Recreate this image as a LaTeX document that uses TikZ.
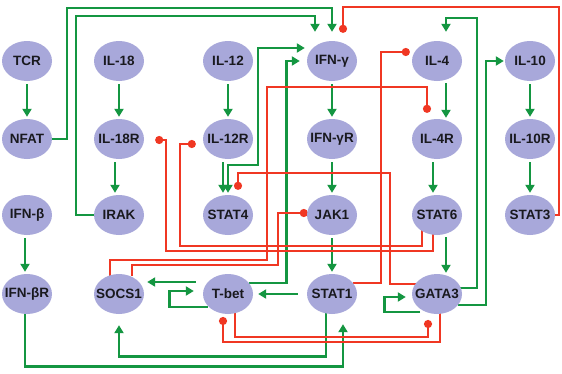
\documentclass[tikz,border=0pt]{standalone}
\usepackage{fontspec}
\setmainfont{Liberation Sans}
\usetikzlibrary{arrows.meta,calc,shapes.geometric,backgrounds}
\definecolor{lav}{RGB}{168,168,218}
\definecolor{actg}{RGB}{20,150,65}
\definecolor{inhr}{RGB}{240,55,35}
\definecolor{txt}{RGB}{25,25,30}
\begin{document}
\begin{tikzpicture}[x=1pt,y=-1pt,
  gene/.style={ellipse, fill=lav, minimum width=50pt, minimum height=40pt, inner sep=0pt, text=txt, font=\fontsize{13.5}{15}\selectfont\bfseries,
    execute at begin node={\hbox to 0pt\bgroup\hss}, execute at end node={\hss\egroup}},
  act/.style={color=actg, line width=2.7pt, -{Triangle[length=8pt,width=9pt]}},
  dbl/.style={color=actg, line width=2.7pt, {Triangle[length=8pt,width=9pt]}-{Triangle[length=8pt,width=9pt]}},
  inh/.style={color=inhr, line width=2.7pt, -{Circle[length=8pt]}},
  vshort/.style={shorten <=3pt, shorten >=2pt}
]
\path[use as bounding box] (0,0) rectangle (562,373);
% nodes
\node[gene] (tcr)   at (27,61)  {TCR};
\node[gene] (il18)  at (119,61) {IL-18};
\node[gene] (il12)  at (228,61) {IL-12};
\node[gene] (ifng)  at (332,61) {IFN-γ};
\node[gene] (il4)   at (437,61) {IL-4};
\node[gene] (il10)  at (530,61) {IL-10};
\node[gene] (nfat)  at (27,139)  {NFAT};
\node[gene] (il18r) at (119,139) {IL-18R};
\node[gene] (il12r) at (228,139) {IL-12R};
\node[gene] (ifngr) at (332,139) {IFN-γR};
\node[gene] (il4r)  at (437,139) {IL-4R};
\node[gene] (il10r) at (530,139) {IL-10R};
\node[gene] (ifnb)  at (27,215)  {IFN-β};
\node[gene] (irak)  at (119,215) {IRAK};
\node[gene] (stat4) at (228,215) {STAT4};
\node[gene] (jak1)  at (332,215) {JAK1};
\node[gene] (stat6) at (437,215) {STAT6};
\node[gene] (stat3) at (530,215) {STAT3};
\node[gene] (ifnbr) at (27,294)  {IFN-βR};
\node[gene] (socs1) at (119,294) {SOCS1};
\node[gene] (tbet)  at (228,294) {T-bet};
\node[gene] (stat1) at (332,294) {STAT1};
\node[gene] (gata3) at (437,294) {GATA3};

\begin{pgfonlayer}{background}
\fill[white] (0,0) rectangle (562,373);
% short vertical activations
\draw[act,vshort] (tcr) -- (nfat);
\draw[act,vshort] (il18) -- (il18r);
\draw[act,vshort] (il12) -- (il12r);
\draw[act,vshort] (ifng) -- (ifngr);
\draw[act,vshort] ($(il4.south)+(9,-1)$) -- ($(il4r.north)+(9,1)$);
\draw[act,vshort] (il10) -- (il10r);
\draw[act,vshort] ($(il18r.south)+(-4,0)$) -- ($(irak.north)+(-4,0)$);
\draw[act,vshort] ($(il12r.south)+(-5,0)$) -- ($(stat4.north)+(-5,0)$);
\draw[act,vshort] (ifngr) -- (jak1);
\draw[act,vshort] ($(il4r.south)+(-4,0)$) -- ($(stat6.north)+(-4,0)$);
\draw[act,vshort] (il10r) -- (stat3);
\draw[act,vshort] ($(ifnb.south)+(-2,0)$) -- ($(ifnbr.north)+(-2,0)$);
\draw[act,vshort] (jak1) -- (stat1);
\draw[act,vshort] ($(stat6.south)+(9,-1)$) -- ($(gata3.north)+(9,1)$);
% horizontal activations
\draw[act, shorten <=9pt, shorten >=5pt] (stat1) -- (tbet);
\draw[act] ($(tbet.west)+(-7,-12)$) -- ($(socs1.east)+(3,-12)$);
% self loops
\draw[act] ($(tbet)+(-20,13)$) -| ($(tbet.west)+(-33,-3)$) -- ($(tbet.west)+(-9,-3)$);
\draw[act] ($(gata3)+(-17,18)$) -| ($(gata3.west)+(-27,3)$) -- ($(gata3.west)+(-6,3)$);
% long activations
\draw[act] (nfat.east) -| (67,8) -| ($(ifng.north)+(0,-9)$);
\draw[act] (irak.west) -| (76,16) -| ($(ifng.north)+(-17,-9)$);
\draw[dbl] ($(ifng.west)+(-2,-13)$) -| (258,165) -| ($(stat4.north)+(0,-2)$);
\draw[act] ($(tbet)+(21,-11)$) -| ($(ifng.west)+(-20,0)$) -- ($(ifng.west)+(-7,0)$);
\draw[act] ($(gata3)+(22,-6)$) -| (477,18) -| ($(il4.north)+(9,-9)$);
\draw[act] ($(gata3)+(21,11)$) -| (486,61) -- ($(il10.west)+(-1,0)$);
\draw[act] ($(ifnbr.south)+(-2,-1)$) |- ($(stat1.south)+(11,52)$) -- ($(stat1.south)+(11,10)$);
\draw[act] ($(stat1.south)+(-6,-1)$) |- ($(socs1.south)+(0,42)$) -- ($(socs1.south)+(0,11)$);
% inhibitions
\draw[inh] (stat3.east) -| (559,7) -| ($(ifng.north)+(11,-8)$);
\draw[inh] ($(stat1)+(21,-11)$) -| (381,52) -- ($(il4.west)+(-2,-9)$);
\draw[inh] ($(gata3)+(-21,-10)$) -| (390,173) -| ($(stat4.north)+(10,-5)$);
\draw[inh] ($(socs1.north)+(-9,2)$) |- (267,260) |- (427,87) -- ($(il4r.north)+(-10,-6)$);
\draw[inh] ($(socs1.north)+(13,2)$) |- (278,265) |- ($(jak1.west)+(1,-2)$);
\draw[inh] ($(stat6)+(-15,14)$) |- (180,246) |- ($(il12r.west)+(-7,5)$);
\draw[inh] ($(stat6)+(-4,18)$) |- (166,251) |- ($(il18r.east)+(11,1)$);
\draw[inh] ($(tbet)+(7,17)$) |- (428,337) -- ($(gata3)+(-9,26)$);
\draw[inh] ($(gata3)+(3,18)$) |- (223,342) -- ($(tbet)+(-5,23)$);
\end{pgfonlayer}
\end{tikzpicture}
\end{document}
